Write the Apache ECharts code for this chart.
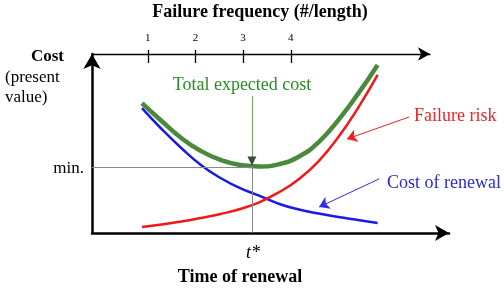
<!DOCTYPE html>
<html>
<head>
<meta charset="utf-8">
<script src="https://cdn.jsdelivr.net/npm/echarts@6/dist/echarts.min.js"></script>
<style>
  html, body { margin: 0; padding: 0; background: #fff; }
  #chart { width: 504px; height: 290px; }
</style>
</head>
<body>
<div id="chart"></div>
<script>
// time of renewal (0..100 across the plot), cost in the same 0..100 scale
var timeVals   = [14, 19.5, 25, 30.5, 36, 41.5, 47, 52.5, 58, 63.5, 69, 74.5, 80];
var renewal    = [69.8, 58.1, 47.5, 38.0, 30.7, 25.1, 20.7, 16.2, 13.1, 10.9, 8.9, 7.3, 5.6];
var failRisk   = [3.4, 4.7, 6.4, 8.4, 10.6, 13.4, 17.3, 22.9, 30.2, 40.2, 53.6, 69.8, 88.3];
var totalCost  = [72.6, 62.6, 53.1, 45.8, 40.8, 38.0, 37.2, 38.5, 42.7, 50.8, 63.1, 77.7, 93.9];
var freqTicks  = [1, 2, 3, 4];
var tStar = 44.8;
var minCost = 37.0;

var serif = '"Liberation Serif", "Times New Roman", serif';

function pairs(ys) {
    return timeVals.map(function (x, i) { return [x, ys[i]]; });
}

var chart = echarts.init(document.getElementById('chart'));

chart.setOption({
    animation: false,
    grid: [
        { left: 92, top: 54, width: 357, height: 179 },
        { left: 92, top: 54, width: 338, height: 20 }
    ],
    xAxis: [
        {
            type: 'value', gridIndex: 0, min: 0, max: 100,
            axisLine: { show: true, lineStyle: { color: '#000', width: 2.5 }, symbol: ['none', 'arrow'], symbolSize: [12, 14] },
            axisTick: { show: false }, axisLabel: { show: false }, splitLine: { show: false }
        },
        {
            type: 'value', gridIndex: 1, position: 'top', min: -0.17, max: 6.92,
            axisLine: { show: true, onZero: false, lineStyle: { color: '#000', width: 1.3 }, symbol: ['none', 'arrow'], symbolSize: [10, 12] },
            axisTick: { show: true, length: 4, lineStyle: { color: '#000', width: 1.3 }, customValues: freqTicks },
            axisLabel: { show: true, margin: 10, color: '#000', fontFamily: serif, fontSize: 11, customValues: freqTicks },
            splitLine: { show: false }
        },
        {
            type: 'value', gridIndex: 1, position: 'top', min: -0.17, max: 6.92,
            axisLine: { show: false, onZero: false },
            axisTick: { show: true, inside: true, length: 9, lineStyle: { color: '#000', width: 1.3 }, customValues: freqTicks },
            axisLabel: { show: false }, splitLine: { show: false }
        }
    ],
    yAxis: [
        {
            type: 'value', gridIndex: 0, min: 0, max: 100,
            axisLine: { show: true, lineStyle: { color: '#000', width: 2.5 }, symbol: ['none', 'arrow'], symbolSize: [13, 15] },
            axisTick: { show: false }, axisLabel: { show: false }, splitLine: { show: false }
        },
        { type: 'value', gridIndex: 1, show: false, min: 0, max: 1 }
    ],
    series: [
        {
            name: 'Cost of renewal', type: 'line', smooth: 0.5, symbol: 'none',
            data: pairs(renewal),
            lineStyle: { color: '#1a1ae6', width: 2.5 },
            markLine: {
                silent: true, label: { show: false }, symbol: ['none', 'arrow'], symbolSize: 10,
                lineStyle: { color: '#3030e0', width: 1, type: 'solid' },
                data: [[{ coord: [80.4, 30.2] }, { coord: [63.6, 14.5] }]]
            }
        },
        {
            name: 'Failure risk', type: 'line', smooth: 0.5, symbol: 'none',
            data: pairs(failRisk),
            lineStyle: { color: '#f01818', width: 2.5 },
            markLine: {
                silent: true, label: { show: false }, symbol: ['none', 'arrow'], symbolSize: 10,
                lineStyle: { color: '#f02020', width: 1, type: 'solid' },
                data: [[{ coord: [88.8, 64.8] }, { coord: [71.4, 52.5] }]]
            }
        },
        {
            name: 'Total expected cost', type: 'line', smooth: 0.5, symbol: 'none',
            data: pairs(totalCost),
            lineStyle: { color: '#4a8a3c', width: 4.5 },
            markLine: {
                silent: true, label: { show: false }, symbol: ['none', 'none'],
                lineStyle: { color: '#888', width: 1, type: 'solid' },
                data: [
                    [{ coord: [0, minCost] }, { coord: [tStar, minCost] }],
                    [{ coord: [tStar, 0] }, { coord: [tStar, minCost] }],
                    [{ coord: [tStar, 76.5], lineStyle: { color: '#6aae5a' } }, { coord: [tStar, 41] }]
                ]
            },
            markPoint: {
                silent: true, label: { show: false },
                data: [{ coord: [tStar, 40.2], symbol: 'triangle', symbolRotate: 180, symbolSize: [9, 9], itemStyle: { color: '#444' } }]
            }
        }
    ],
    graphic: [
        { type: 'text', x: 260, y: 12, style: { text: 'Failure frequency (#/length)', font: 'bold 18px ' + serif, fill: '#000', align: 'center', verticalAlign: 'middle' } },
        { type: 'text', x: 64, y: 57, style: { text: 'Cost', font: 'bold 17px ' + serif, fill: '#000', align: 'right', verticalAlign: 'middle' } },
        { type: 'text', x: 5, y: 78, style: { text: '(present', font: '17px ' + serif, fill: '#000', align: 'left', verticalAlign: 'middle' } },
        { type: 'text', x: 5, y: 98, style: { text: 'value)', font: '17px ' + serif, fill: '#000', align: 'left', verticalAlign: 'middle' } },
        { type: 'text', x: 84, y: 169, style: { text: 'min.', font: '17px ' + serif, fill: '#000', align: 'right', verticalAlign: 'middle' } },
        { type: 'text', x: 242, y: 85, style: { text: 'Total expected cost', font: '18px ' + serif, fill: '#2a8a2a', align: 'center', verticalAlign: 'middle' } },
        { type: 'text', x: 414, y: 116, style: { text: 'Failure risk', font: '18px ' + serif, fill: '#e8262a', align: 'left', verticalAlign: 'middle' } },
        { type: 'text', x: 387, y: 183, style: { text: 'Cost of renewal', font: '18px ' + serif, fill: '#2a2ad0', align: 'left', verticalAlign: 'middle' } },
        { type: 'text', x: 253, y: 253, style: { text: 't*', font: 'italic 18px ' + serif, fill: '#000', align: 'center', verticalAlign: 'middle' } },
        { type: 'text', x: 240, y: 277, style: { text: 'Time of renewal', font: 'bold 18px ' + serif, fill: '#000', align: 'center', verticalAlign: 'middle' } }
    ]
});
</script>
</body>
</html>
